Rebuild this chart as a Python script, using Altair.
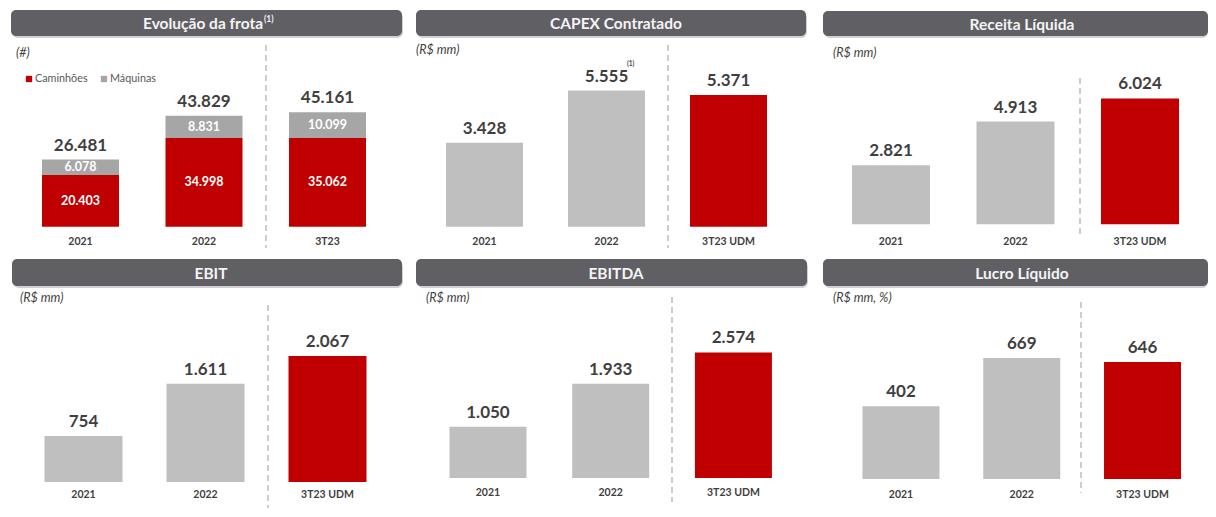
import altair as alt
import pandas as pd

FONT = "Lato"
DARK = "#3F3F3F"
RED = "#C00000"
GRAY = "#BFBFBF"
GRAY_STACK = "#A6A6A6"
TITLE_BG = "#605F64"
W, H = 400, 250

# ---------------- data ----------------
frota_cats = ["2021", "2022", "3T23"]
caminhoes = [20403, 34998, 35062]
maquinas = [6078, 8831, 10099]
series = ["Caminhões", "Máquinas"]

cats_udm = ["2021", "2022", "3T23 UDM"]
capex = [3428, 5555, 5371]
receita = [2821, 4913, 6024]
ebit = [754, 1611, 2067]
ebitda = [1050, 1933, 2574]
lucro = [402, 669, 646]


def fmt(v):
    return f"{v:,}".replace(",", ".")


def decor(c):
    one = pd.DataFrame({"t": [c["title"]]})
    x0, x1 = c["tb"]
    y0, y1 = c["tby"]
    shadow = alt.Chart(one).mark_rect(cornerRadius=6, color="#7a7a7a", opacity=0.35).encode(
        x=alt.value(x0 + 1), x2=alt.value(min(x1 + 1, W)),
        y=alt.value(y0 + 2), y2=alt.value(y1 + 2))
    bar = alt.Chart(one).mark_rect(cornerRadius=5, color=TITLE_BG).encode(
        x=alt.value(x0), x2=alt.value(x1), y=alt.value(y0), y2=alt.value(y1))
    ttext = alt.Chart(one).mark_text(
        font=FONT, fontSize=15.5, fontWeight="bold", color="#F4F4F4",
        align="center", baseline="middle").encode(
        x=alt.value(c["tcx"]), y=alt.value((y0 + y1) / 2 + 1), text="t:N")
    utext = alt.Chart(pd.DataFrame({"u": [c["unit"]]})).mark_text(
        font=FONT, fontSize=12.5, fontStyle="italic", color=DARK,
        align="left", baseline="middle").encode(
        x=alt.value(c["ux"]), y=alt.value(c["uy"]), text="u:N")
    sep = alt.Chart(one).mark_rule(color="#BDBDBD", strokeDash=[6, 4], strokeWidth=1.5).encode(
        x=alt.value(c["sep"][0]), y=alt.value(c["sep"][1]), y2=alt.value(c["sep"][2]))
    return [shadow, bar, ttext, utext, sep]


def scales(c, cats):
    xs = alt.X("cat:N", sort=cats, axis=None,
               scale=alt.Scale(range=list(c["xr"]), paddingInner=0, paddingOuter=0))
    ysc = alt.Scale(domain=[0, c["base"] / c["k"]], range=[c["base"], 0])
    return xs, ysc


def bar_panel(c, cats, vals):
    df = pd.DataFrame({"cat": cats, "v": vals, "lab": [fmt(v) for v in vals]})
    xs, ysc = scales(c, cats)
    base = alt.Chart(df).encode(x=xs)
    bars = base.mark_bar(size=c["bw"]).encode(
        y=alt.Y("v:Q", axis=None, scale=ysc),
        color=alt.condition(alt.datum.cat == cats[-1], alt.value(RED), alt.value(GRAY)))
    vlab = base.mark_text(font=FONT, fontSize=17, fontWeight="bold", color=DARK,
                          baseline="alphabetic", dy=-9).encode(
        y=alt.Y("v:Q", axis=None, scale=ysc), text="lab:N")
    xlab = base.mark_text(font=FONT, fontSize=10.5, fontWeight="bold", color=DARK,
                          baseline="middle").encode(y=alt.value(c["xly"]), text="cat:N")
    layers = decor(c) + [bars, vlab, xlab]
    if c.get("sup"):
        sx, sy = c["sup"]
        layers.append(alt.Chart(pd.DataFrame({"s": ["(1)"]})).mark_text(
            font=FONT, fontSize=6.5, fontWeight="bold", color=DARK, align="left", baseline="middle"
        ).encode(x=alt.value(sx), y=alt.value(sy), text="s:N"))
    return alt.layer(*layers).properties(width=W, height=H)


def frota_panel(c):
    df = pd.DataFrame({
        "cat": frota_cats * 2,
        "serie": [series[0]] * 3 + [series[1]] * 3,
        "v": caminhoes + maquinas,
    })
    df["lab"] = df["v"].map(fmt)
    totals = [a + b for a, b in zip(caminhoes, maquinas)]
    tdf = pd.DataFrame({"cat": frota_cats, "v": totals, "lab": [fmt(v) for v in totals]})
    xs, ysc = scales(c, frota_cats)
    colsc = alt.Scale(domain=series, range=[RED, GRAY_STACK])
    bars = alt.Chart(df).mark_bar(size=c["bw"]).encode(
        x=xs,
        y=alt.Y("v:Q", stack="zero", axis=None, scale=ysc),
        color=alt.Color("serie:N", scale=colsc, legend=None),
        order=alt.Order("serie:N", sort="ascending"))
    inner = alt.Chart(df).transform_stack(
        stack="v", groupby=["cat"], as_=["y0", "y1"],
        sort=[alt.SortField("serie", order="ascending")]
    ).transform_calculate(mid="(datum.y0 + datum.y1) / 2").mark_text(
        font=FONT, fontSize=12.5, fontWeight="bold", color="#FFFFFF", baseline="middle"
    ).encode(x=xs, y=alt.Y("mid:Q", axis=None, scale=ysc), text="lab:N")
    tot = alt.Chart(tdf).mark_text(font=FONT, fontSize=17, fontWeight="bold", color=DARK,
                                   baseline="alphabetic", dy=-9).encode(
        x=xs, y=alt.Y("v:Q", axis=None, scale=ysc), text="lab:N")
    xlab = alt.Chart(tdf).mark_text(font=FONT, fontSize=10.5, fontWeight="bold", color=DARK,
                                    baseline="middle").encode(
        x=xs, y=alt.value(c["xly"]), text="cat:N")
    # legend
    ldf = pd.DataFrame({"serie": series})
    lx = alt.X("serie:N", axis=None,
               scale=alt.Scale(type="point", domain=series, range=[21, 96], padding=0))
    lsq = alt.Chart(ldf).mark_square(size=40, opacity=1).encode(
        x=lx, y=alt.value(71), color=alt.Color("serie:N", scale=colsc, legend=None))
    ltx = alt.Chart(ldf).mark_text(font=FONT, fontSize=10.8, color="#595959",
                                   align="left", baseline="middle", dx=6).encode(
        x=lx, y=alt.value(71), text="serie:N")
    sup = alt.Chart(pd.DataFrame({"s": ["(1)"]})).mark_text(
        font=FONT, fontSize=8.5, fontWeight="bold", color="#F4F4F4", align="left", baseline="middle"
    ).encode(x=alt.value(c["tsup"][0]), y=alt.value(c["tsup"][1]), text="s:N")
    layers = decor(c) + [sup, bars, inner, tot, xlab, lsq, ltx]
    return alt.layer(*layers).resolve_scale(x="independent").properties(width=W, height=H)


cfg = {
    "frota": dict(title="Evolução da frota", unit="(#)", tb=(3, 394), tby=(2, 28), tcx=195,
                  tsup=(256, 11), ux=8, uy=45, sep=(258, 37, 240), xr=(10.75, 381.25), bw=77,
                  base=218.7, k=0.002533, xly=234),
    "capex": dict(title="CAPEX Contratado", unit="(R$ mm)", tb=(8, 398), tby=(2, 28), tcx=208,
                  ux=8, uy=42, sep=(260, 37, 240), xr=(15.5, 381.5), bw=77,
                  base=218.7, k=0.0245, xly=234, sup=(219, 56)),
    "receita": dict(title="Receita Líquida", unit="(R$ mm)", tb=(15, 400), tby=(3, 28), tcx=214,
                    ux=25, uy=45, sep=(272, 70, 230), xr=(20.75, 394.25), bw=78,
                    base=216.3, k=0.0209, xly=234),
    "ebit": dict(title="EBIT", unit="(R$ mm)", tb=(4, 394), tby=(1, 28), tcx=203,
                 ux=12, uy=40, sep=(260, 47, 250), xr=(14.5, 380.5), bw=78,
                 base=224, k=0.061, xly=237),
    "ebitda": dict(title="EBITDA", unit="(R$ mm)", tb=(8, 399), tby=(1, 28), tcx=208,
                   ux=18, uy=40, sep=(264, 39, 244), xr=(18.6, 386.8), bw=77,
                   base=220, k=0.0488, xly=235),
    "lucro": dict(title="Lucro Líquido", unit="(R$ mm, %)", tb=(15, 400), tby=(1, 28), tcx=214,
                  ux=25, uy=40, sep=(273, 44, 235), xr=(32.6, 394.9), bw=77,
                  base=221, k=0.181, xly=237),
}

top = alt.hconcat(
    frota_panel(cfg["frota"]),
    bar_panel(cfg["capex"], cats_udm, capex),
    bar_panel(cfg["receita"], cats_udm, receita),
    spacing=0,
)
bottom = alt.hconcat(
    bar_panel(cfg["ebit"], cats_udm, ebit),
    bar_panel(cfg["ebitda"], cats_udm, ebitda),
    bar_panel(cfg["lucro"], cats_udm, lucro),
    spacing=0,
)

chart = alt.vconcat(top, bottom, spacing=0).properties(
    padding=0, background="white").configure_view(strokeWidth=0, stroke="transparent")

chart.save("out.html", embed_options={"renderer": "svg", "actions": False})
